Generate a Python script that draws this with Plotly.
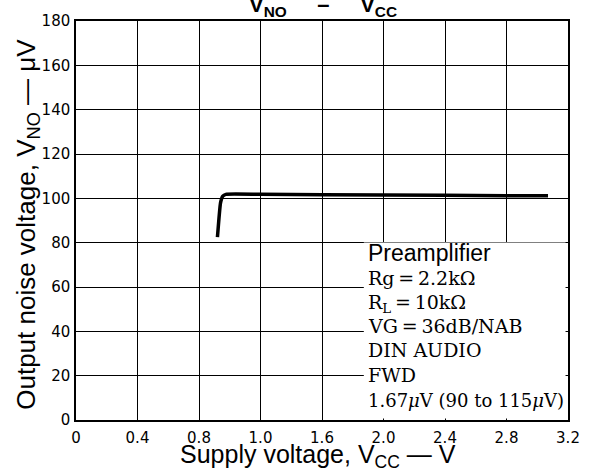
import plotly.graph_objects as go

# Data
vcc = [0.92, 0.94, 0.955, 0.975, 1.2, 2.0, 2.8, 3.07]
vno = [82.5, 98.0, 101.0, 101.8, 101.8, 101.5, 101.2, 101.2]

x_tickvals = [0, 0.4, 0.8, 1.2, 1.6, 2.0, 2.4, 2.8, 3.2]
x_ticktext = ["0", "0.4", "0.8", "1.0", "1.6", "2.0", "2.4", "2.8", "3.2"]
y_tickvals = [0, 20, 40, 60, 80, 100, 120, 140, 160, 180]

note_lines = [
    ("Preamplifier", "sans"),
    ("Rg\u2009=\u20092.2k\u03a9", "serif"),
    ("R<sub>L</sub>\u2009=\u200910k\u03a9", "serif"),
    ("VG\u2009=\u200936dB/NAB", "serif"),
    ("DIN AUDIO", "serif"),
    ("FWD", "serif"),
    ("1.67<i>\u03bc</i>V (90 to 115<i>\u03bc</i>V)", "serif_small"),
]

fig = go.Figure()
fig.add_trace(go.Scatter(x=vcc, y=vno, mode="lines",
                         line=dict(color="black", width=3.5, shape="spline", smoothing=0.4),
                         hoverinfo="skip", showlegend=False))

axis_common = dict(showline=True, linecolor="black", linewidth=1.5, mirror=True,
                   showgrid=True, gridcolor="black", gridwidth=1, zeroline=False,
                   ticks="", tickfont=dict(family="DejaVu Sans", size=15, color="black"))

fig.update_xaxes(range=[0, 3.2], tickvals=x_tickvals, ticktext=x_ticktext,
                 ticklabelstandoff=3, **axis_common)
fig.update_yaxes(range=[0, 180], tickvals=y_tickvals, ticklabelstandoff=1, **axis_common)

# white box behind the condition notes
fig.add_shape(type="rect", xref="paper", yref="paper", x0=0.585, x1=0.995, y0=0.004, y1=0.445,
              fillcolor="white", line=dict(width=0), layer="above")

ys = [0.4175, 0.355, 0.2925, 0.235, 0.175, 0.1125, 0.05]
for (txt, kind), yy in zip(note_lines, ys):
    if kind == "sans":
        font = dict(family="Liberation Sans, Arial", size=23, color="black")
    elif kind == "serif":
        font = dict(family="DejaVu Serif", size=19, color="black")
    else:
        font = dict(family="DejaVu Serif", size=18, color="black")
    fig.add_annotation(xref="paper", yref="paper", x=0.589, y=yy, text=txt, showarrow=False,
                       xanchor="left", yanchor="middle", font=font)

# titles
fig.add_annotation(xref="paper", yref="paper", x=0.502, y=1, yshift=-1,
                   text="<b>V<sub>NO</sub>     \u2013     V<sub>CC</sub></b>", showarrow=False,
                   xanchor="center", yanchor="bottom",
                   font=dict(family="Liberation Sans, Arial", size=22, color="black"))
fig.add_annotation(xref="paper", yref="paper", x=0.492, y=-0.09,
                   text="Supply voltage, V<sub>CC</sub> \u2014 V", showarrow=False,
                   xanchor="center", yanchor="middle",
                   font=dict(family="Liberation Sans, Arial", size=25, color="black"))
fig.add_annotation(xref="paper", yref="paper", x=-0.099, y=0.49, textangle=-90,
                   text="Output noise voltage, V<sub>NO</sub> \u2014 \u03bcV", showarrow=False,
                   xanchor="center", yanchor="middle",
                   font=dict(family="Liberation Sans, Arial", size=26, color="black"))

fig.update_layout(width=592, height=471, margin=dict(l=76, r=20, t=20, b=51),
                  paper_bgcolor="white", plot_bgcolor="white")

fig.write_html("out.html", config={"displayModeBar": False},
               post_script="document.body.style.margin='0';")
